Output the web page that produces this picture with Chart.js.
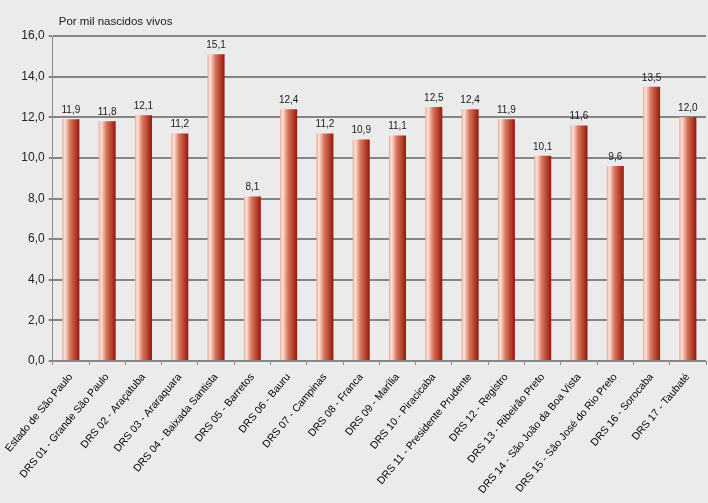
<!DOCTYPE html>
<html>
<head>
<meta charset="utf-8">
<script src="https://cdn.jsdelivr.net/npm/chart.js@4/dist/chart.umd.min.js"></script>
<style>
  html, body { margin: 0; padding: 0; background: #ebebeb; }
  #wrap { width: 708px; height: 503px; position: relative; }
</style>
</head>
<body>
<div id="wrap"><canvas id="myChart"></canvas></div>
<script>
let categories = [
    'Estado de São Paulo',
    'DRS 01 - Grande São Paulo',
    'DRS 02 - Araçatuba',
    'DRS 03 - Araraquara',
    'DRS 04 - Baixada Santista',
    'DRS 05 - Barretos',
    'DRS 06 - Bauru',
    'DRS 07 - Campinas',
    'DRS 08 - Franca',
    'DRS 09 - Marília',
    'DRS 10 - Piracicaba',
    'DRS 11 - Presidente Prudente',
    'DRS 12 - Registro',
    'DRS 13 - Ribeirão Preto',
    'DRS 14 - São João da Boa Vista',
    'DRS 15 - São José do Rio Preto',
    'DRS 16 - Sorocaba',
    'DRS 17 - Taubaté'
];
let values = [11.9, 11.8, 12.1, 11.2, 15.1, 8.1, 12.4, 11.2, 10.9, 11.1, 12.5, 12.4, 11.9, 10.1, 11.6, 9.6, 13.5, 12.0];
let unitLabel = 'Por mil nascidos vivos';

let BAR_PCT = 0.47;

function fmt(v) {
    return v.toFixed(1).replace('.', ',');
}

// horizontal gradient for each bar, light on the left, dark red on the right
function barFill(context) {
    let chart = context.chart;
    let xs = chart.scales.x;
    if (!xs || !chart.chartArea) return '#c4553d';
    let center = xs.getPixelForValue(context.dataIndex);
    let w = (xs.width / categories.length) * BAR_PCT;
    let g = chart.ctx.createLinearGradient(center - w / 2, 0, center + w / 2, 0);
    g.addColorStop(0, '#e9a893');
    g.addColorStop(0.15, '#fbe4dc');
    g.addColorStop(0.45, '#d9765d');
    g.addColorStop(1, '#961709');
    return g;
}

// value labels above bars + unit text above the plot
let labelPlugin = {
    id: 'labels',
    afterDatasetsDraw: function (chart) {
        let ctx = chart.ctx;
        let meta = chart.getDatasetMeta(0);
        ctx.save();
        ctx.fillStyle = '#1a1a1a';
        ctx.font = '10px "Liberation Sans", Arial, sans-serif';
        ctx.textAlign = 'center';
        ctx.textBaseline = 'bottom';
        for (let i = 0; i < meta.data.length; i++) {
            let el = meta.data[i];
            ctx.fillText(fmt(values[i]), el.x, el.y - 4);
        }
        ctx.textAlign = 'left';
        ctx.font = '11.5px "Liberation Sans", Arial, sans-serif';
        ctx.fillText(unitLabel, chart.chartArea.left + 6, chart.chartArea.top - 8);
        ctx.restore();
    }
};

let ctx = document.getElementById('myChart').getContext('2d');
let myChart = new Chart(ctx, {
    type: 'bar',
    data: {
        labels: categories,
        datasets: [{
            data: values,
            backgroundColor: barFill,
            borderWidth: 0,
            barPercentage: BAR_PCT,
            categoryPercentage: 1.0
        }]
    },
    options: {
        responsive: true,
        maintainAspectRatio: false,
        animation: false,
        layout: { padding: { top: 36, right: 2, left: 0, bottom: 0 } },
        plugins: {
            legend: { display: false },
            tooltip: { enabled: false }
        },
        scales: {
            x: {
                offset: true,
                grid: {
                    offset: true,
                    drawOnChartArea: false,
                    drawTicks: true,
                    tickLength: 4,
                    color: '#8a8a8a'
                },
                border: { color: '#8a8a8a', width: 1 },
                ticks: {
                    minRotation: 50,
                    maxRotation: 50,
                    autoSkip: false,
                    padding: 6,
                    color: '#000',
                    font: { family: '"Liberation Sans", Arial, sans-serif', size: 10.5 }
                },
                afterFit: function (scale) { scale.height = 142; }
            },
            y: {
                min: 0,
                max: 16,
                ticks: {
                    stepSize: 2,
                    color: '#222',
                    padding: 4,
                    font: { family: '"Liberation Sans", Arial, sans-serif', size: 12 },
                    callback: function (v) { return fmt(v); }
                },
                grid: {
                    color: '#858585',
                    lineWidth: 2,
                    tickLength: 4
                },
                border: { color: '#8a8a8a', width: 1 },
                afterFit: function (scale) { scale.width = 52; }
            }
        }
    },
    plugins: [labelPlugin]
});
</script>
</body>
</html>
